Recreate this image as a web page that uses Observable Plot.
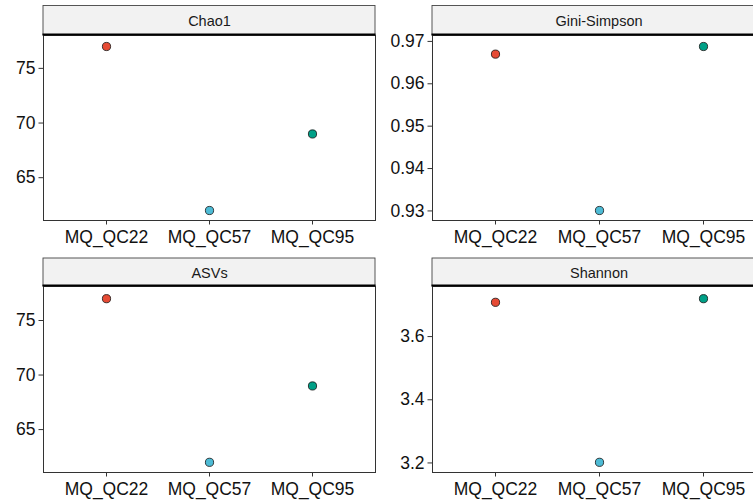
<!DOCTYPE html>
<html>
<head>
<meta charset="utf-8">
<script src="https://cdn.jsdelivr.net/npm/d3@7"></script>
<script src="https://cdn.jsdelivr.net/npm/@observablehq/plot@0.6"></script>
<style>
  html, body { margin: 0; padding: 0; background: #fff; overflow: hidden; }
  #chart { position: relative; width: 753px; height: 502px; overflow: hidden; background: #fff; }
  #chart > div { position: absolute; }
  #chart svg { display: block; max-width: none !important; }
</style>
</head>
<body>
<div id="chart"></div>
<script>
// ---- data ----
const samples = ["MQ_QC22", "MQ_QC57", "MQ_QC95"];
const colors = ["#E64B35", "#4DBBD5", "#00A087"];
const chao1 = [77, 62, 69];
const asvs = [77, 62, 69];
const giniSimpson = [0.967, 0.9301, 0.9688];
const shannon = [3.7085, 3.202, 3.72];
const chao1Ticks = [65, 70, 75];
const asvTicks = [65, 70, 75];
const giniTicks = [0.93, 0.94, 0.95, 0.96, 0.97];
const shannonTicks = [3.2, 3.4, 3.6];

const FONT = '"Liberation Sans", Arial, Helvetica, sans-serif';

function panel({title, values, ticks, left, top, width, marginLeft, marginRight, marginBottom, stripTop, insetTop, insetBottom, tickFormat}) {
  const H = 251, MT = 35;
  const data = samples.map((s, i) => ({sample: s, value: values[i]}));
  const ext = d3.extent(values);
  const r = ext[1] - ext[0];
  const domain = [ext[0] - 0.05 * r, ext[1] + 0.05 * r];
  const chart = Plot.plot({
    width, height: H, marginLeft, marginRight, marginTop: MT, marginBottom,
    style: {fontFamily: FONT, fontSize: "17.5px", color: "#111", background: "transparent", overflow: "visible"},
    x: {type: "point", domain: samples, padding: 0.6, label: null},
    y: {domain, insetTop, insetBottom, label: null},
    color: {domain: samples, range: colors},
    marks: [
      Plot.frame({stroke: "#333", strokeWidth: 1}),
      Plot.axisY({ticks, tickSize: 4.5, tickPadding: 3.5, fontSize: 17.5, label: null, stroke: "#333", fill: "#111", tickFormat}),
      Plot.axisX({tickSize: 4.5, tickPadding: 5.5, fontSize: 17.5, label: null, stroke: "#333", fill: "#111"}),
      Plot.dot(data, {x: "sample", y: "value", fill: "sample", stroke: "#111", strokeWidth: 0.8, r: 4.1}),
      Plot.text([title], {frameAnchor: "top", dy: -(MT - stripTop) / 2 + 0.5, text: d => d, fontSize: 14.5, fill: "#1a1a1a", lineAnchor: "middle"})
    ]
  });
  chart.style.maxWidth = "none";
  chart.style.width = width + "px";
  chart.style.height = H + "px";
  const svg = d3.select(chart);
  const x0 = marginLeft, x1 = width - marginRight;
  svg.insert("rect", ":first-child")
    .attr("x", x0).attr("y", stripTop)
    .attr("width", x1 - x0).attr("height", MT - stripTop)
    .attr("fill", "#f2f2f2").attr("stroke", "#444").attr("stroke-width", 0.9);
  svg.append("line")
    .attr("x1", x0 - 0.5).attr("x2", x1 + 0.5)
    .attr("y1", MT - 0.5).attr("y2", MT - 0.5)
    .attr("stroke", "#000").attr("stroke-width", 2);
  const wrap = document.createElement("div");
  wrap.style.left = left + "px";
  wrap.style.top = top + "px";
  wrap.style.width = width + "px";
  wrap.style.height = H + "px";
  wrap.appendChild(chart);
  document.getElementById("chart").appendChild(wrap);
}

panel({title: "Chao1", values: chao1, ticks: chao1Ticks, left: 0, top: 0, width: 376, marginLeft: 43, marginRight: 1, marginBottom: 31, stripTop: 5.5, insetTop: 2.8, insetBottom: 1.8});
panel({title: "Gini-Simpson", values: giniSimpson, ticks: giniTicks, left: 376, top: 0, width: 390, marginLeft: 56, marginRight: 1, marginBottom: 31, stripTop: 5.5, insetTop: 2.8, insetBottom: 1.8, tickFormat: d3.format(".2f")});
panel({title: "ASVs", values: asvs, ticks: asvTicks, left: 0, top: 251, width: 376, marginLeft: 43, marginRight: 1, marginBottom: 30, stripTop: 7, insetTop: 4, insetBottom: 2});
panel({title: "Shannon", values: shannon, ticks: shannonTicks, left: 376, top: 251, width: 390, marginLeft: 56, marginRight: 1, marginBottom: 30, stripTop: 7, insetTop: 4, insetBottom: 2, tickFormat: d3.format(".1f")});
</script>
</body>
</html>
